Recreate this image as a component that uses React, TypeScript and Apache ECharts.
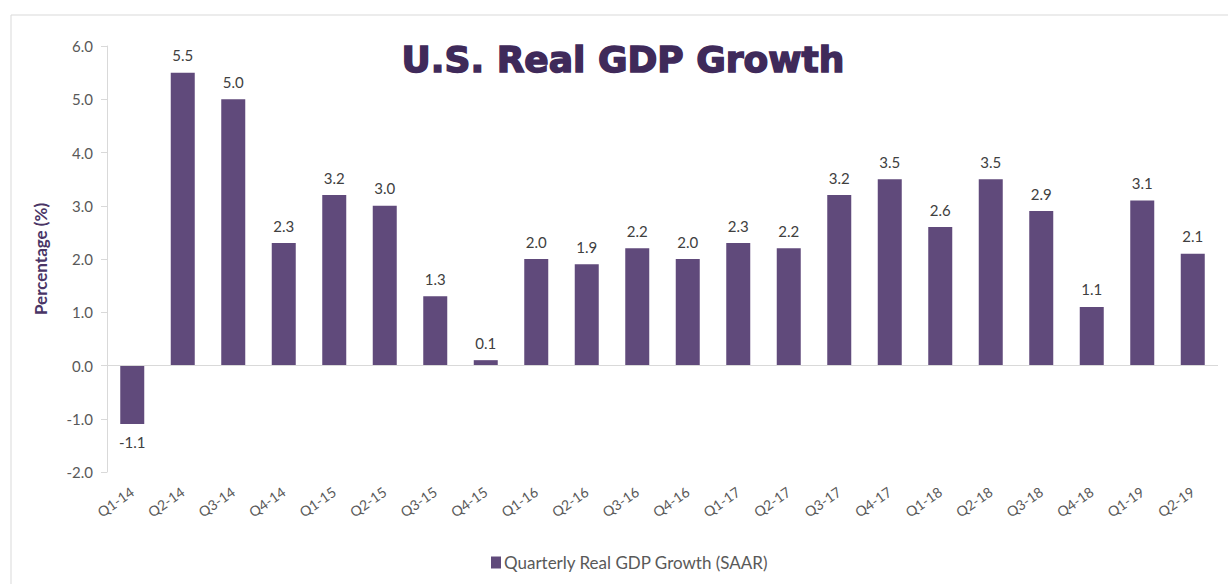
import React, { useEffect, useRef } from "react";
import * as echarts from "echarts";

const categories = [
  "Q1-14", "Q2-14", "Q3-14", "Q4-14",
  "Q1-15", "Q2-15", "Q3-15", "Q4-15",
  "Q1-16", "Q2-16", "Q3-16", "Q4-16",
  "Q1-17", "Q2-17", "Q3-17", "Q4-17",
  "Q1-18", "Q2-18", "Q3-18", "Q4-18",
  "Q1-19", "Q2-19",
];
const gdpGrowth = [
  -1.1, 5.5, 5.0, 2.3,
  3.2, 3.0, 1.3, 0.1,
  2.0, 1.9, 2.2, 2.0,
  2.3, 2.2, 3.2, 3.5,
  2.6, 3.5, 2.9, 1.1,
  3.1, 2.1,
];
const seriesName = "Quarterly Real GDP Growth (SAAR)";
const titleText = "U.S. Real GDP Growth";
const yAxisName = "Percentage (%)";

const FONT = "Lato, 'Open Sans', sans-serif";

export default function App() {
  const ref = useRef<HTMLDivElement>(null);
  useEffect(() => {
    if (!ref.current) return;
    const chart = echarts.init(ref.current, undefined, { renderer: "svg" });
    chart.setOption({
      animation: false,
      backgroundColor: "#ffffff",
      title: {
        text: titleText,
        left: 618,
        textAlign: "center",
        top: 36,
        textStyle: {
          fontFamily: "'DejaVu Sans', sans-serif",
          fontWeight: "bold",
          fontSize: 36,
          color: "#3f2a5a",
          textBorderColor: "#3f2a5a",
          textBorderWidth: 1.5,
        },
      },
      graphic: [
        {
          type: "rect",
          shape: { x: 11, y: 15, width: 1240, height: 600 },
          style: { fill: "none", stroke: "#d9d9d9", lineWidth: 1 },
          silent: true,
        },
      ],
      legend: {
        left: 486,
        top: 549,
        itemWidth: 10,
        itemHeight: 12,
        itemGap: 4,
        icon: "rect",
        textStyle: { fontFamily: FONT, fontSize: 17, color: "#595959", padding: [0, 0, 0, -2] },
        data: [seriesName],
      },
      grid: { left: 107, right: 10, top: 46, bottom: 112, containLabel: false },
      xAxis: {
        type: "category",
        data: categories,
        axisLine: { show: false, onZero: false },
        axisTick: { show: false },
        axisLabel: {
          rotate: 35,
          margin: 18,
          fontFamily: FONT,
          fontSize: 14,
          color: "#595959",
          interval: 0,
        },
      },
      yAxis: {
        type: "value",
        min: -2,
        max: 6,
        interval: 1,
        name: yAxisName,
        nameLocation: "middle",
        nameGap: 58,
        nameTextStyle: {
          fontFamily: FONT,
          fontSize: 17,
          fontWeight: "bold",
          color: "#4a3566",
        },
        axisLine: { show: true, lineStyle: { color: "#d9d9d9" } },
        axisTick: { show: true, length: 6, lineStyle: { color: "#d9d9d9" } },
        splitLine: { show: false },
        axisLabel: {
          margin: 14,
          fontFamily: FONT,
          fontSize: 15,
          color: "#595959",
          formatter: (v: number) => v.toFixed(1),
        },
      },
      series: [
        {
          name: seriesName,
          type: "bar",
          data: gdpGrowth,
          barWidth: 24,
          itemStyle: { color: "#604a7b" },
          label: {
            show: true,
            position: "outside",
            distance: 10,
            fontFamily: FONT,
            fontSize: 15,
            color: "#404040",
            formatter: (p: any) => Number(p.value).toFixed(1),
          },
          markLine: {
            silent: true,
            symbol: "none",
            label: { show: false },
            lineStyle: { color: "#d9d9d9", type: "solid", width: 1 },
            data: [{ yAxis: 0 }],
          },
        },
      ],
    });
    return () => chart.dispose();
  }, []);
  return (
    <div
      ref={ref}
      style={{ position: "fixed", left: 0, top: 0, width: 1228, height: 584 }}
    />
  );
}
